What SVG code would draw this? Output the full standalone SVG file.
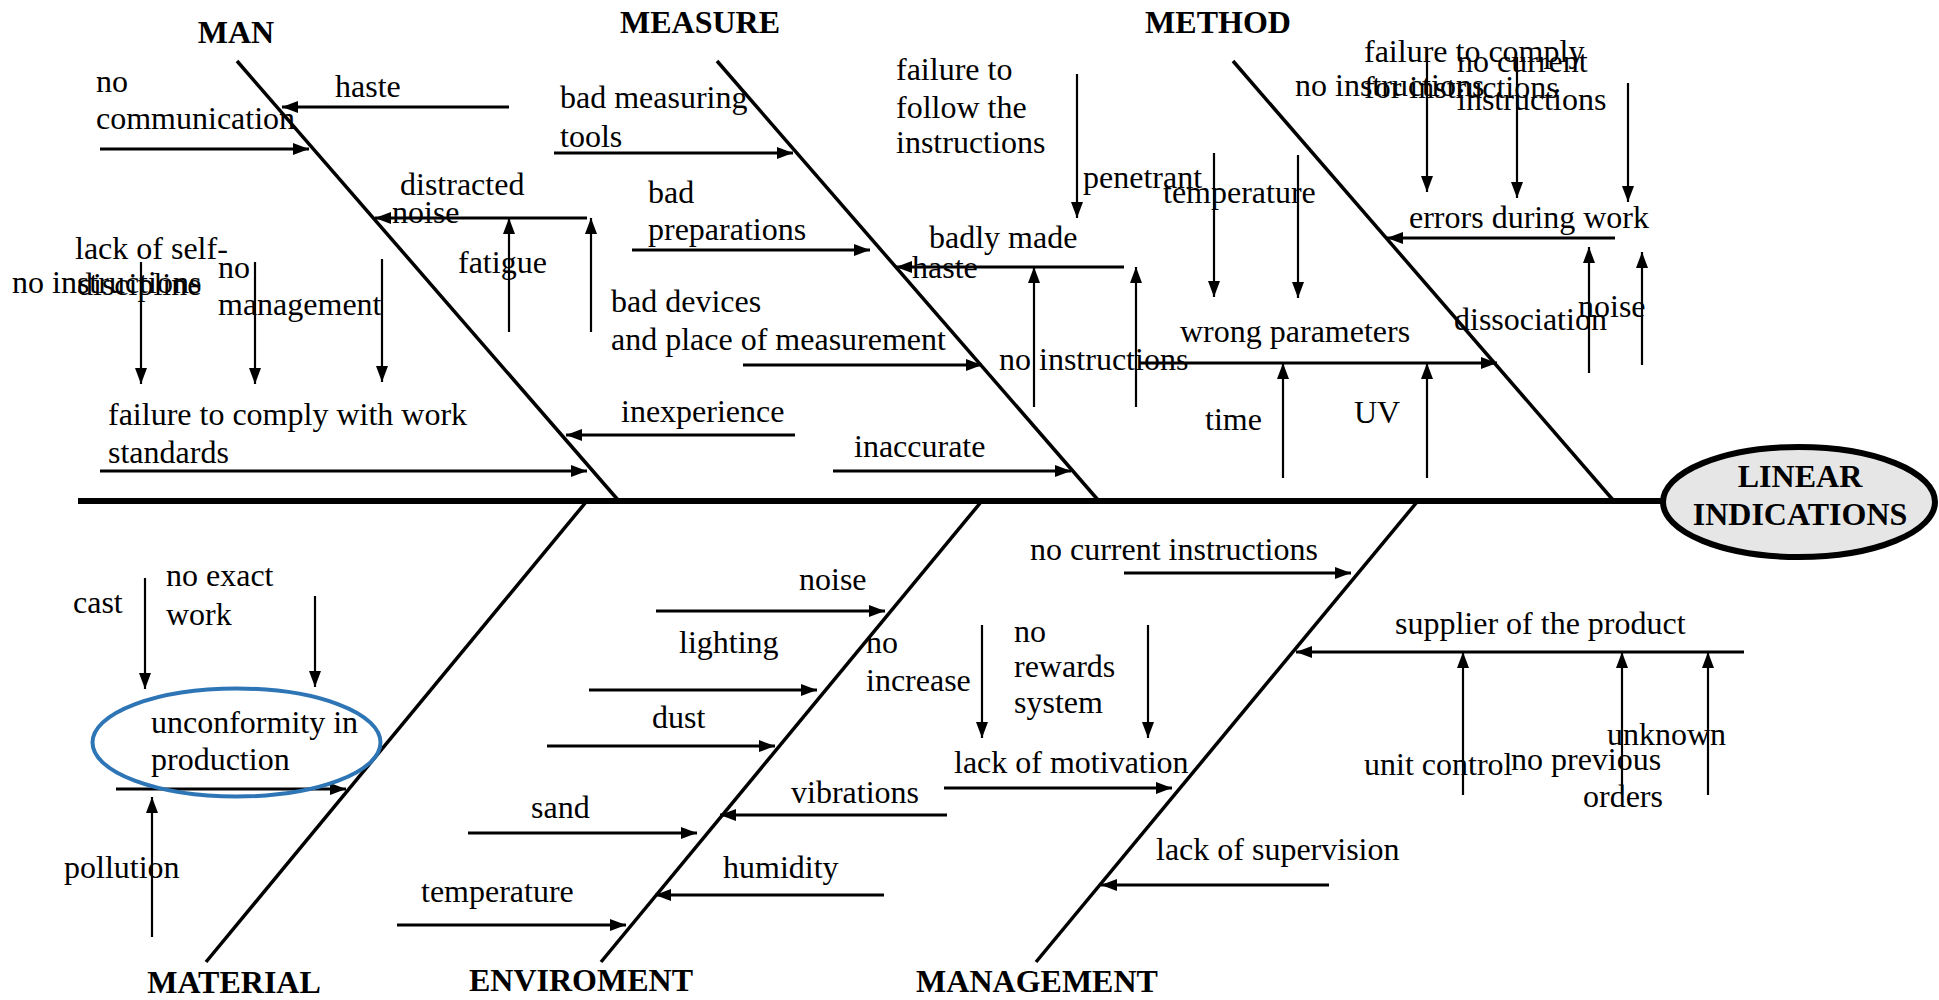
<svg xmlns="http://www.w3.org/2000/svg" width="1939" height="1000" viewBox="0 0 1939 1000">
<style>
text{font-family:"Liberation Serif","Times New Roman",serif;font-size:32px;fill:#000}
.h{font-weight:bold;text-anchor:middle}
.bone{stroke:#000;stroke-width:3.5;fill:none}
.spine{stroke:#000;stroke-width:6;fill:none}
.ar{stroke:#000;stroke-width:3;fill:none;marker-end:url(#ah)}
.av{stroke:#000;stroke-width:2.2;fill:none;marker-end:url(#ah)}
</style>
<defs>
<marker id="ah" markerUnits="userSpaceOnUse" markerWidth="16" markerHeight="12" refX="16" refY="6" orient="auto">
<path d="M0,0 L16,6 L0,12 z" fill="#000"/>
</marker>
</defs>
<rect width="1939" height="1000" fill="#fff"/>
<g id="connectors">
<line class="spine" x1="78" y1="501" x2="1662" y2="501"/>
<line class="bone" x1="237" y1="61" x2="618" y2="500"/>
<line class="bone" x1="717" y1="61" x2="1098" y2="500"/>
<line class="bone" x1="1233" y1="61" x2="1613" y2="500"/>
<line class="bone" x1="586" y1="502" x2="206" y2="962"/>
<line class="bone" x1="981" y1="502" x2="601" y2="962"/>
<line class="bone" x1="1417" y1="502" x2="1036" y2="962"/>
<!-- MAN -->
<line class="ar" x1="509" y1="107" x2="282" y2="107"/>
<line class="ar" x1="100" y1="149" x2="309" y2="149"/>
<line class="ar" x1="587" y1="218" x2="375" y2="218"/>
<line class="av" x1="509" y1="332" x2="509" y2="218"/>
<line class="av" x1="591" y1="332" x2="591" y2="218"/>
<line class="av" x1="141" y1="262" x2="141" y2="384"/>
<line class="av" x1="255" y1="262" x2="255" y2="384"/>
<line class="av" x1="382" y1="259" x2="382" y2="382"/>
<line class="ar" x1="100" y1="471" x2="587" y2="471"/>
<line class="ar" x1="795" y1="435" x2="566" y2="435"/>
<!-- MEASURE -->
<line class="ar" x1="554" y1="153" x2="793" y2="153"/>
<line class="ar" x1="632" y1="250" x2="870" y2="250"/>
<line class="ar" x1="743" y1="365" x2="982" y2="365"/>
<line class="ar" x1="833" y1="471" x2="1071" y2="471"/>
<line class="av" x1="1077" y1="74" x2="1077" y2="218"/>
<line class="ar" x1="1124" y1="267" x2="896" y2="267"/>
<line class="av" x1="1034" y1="407" x2="1034" y2="267"/>
<line class="av" x1="1136" y1="407" x2="1136" y2="267"/>
<!-- METHOD -->
<line class="ar" x1="1140" y1="363" x2="1497" y2="363"/>
<line class="av" x1="1214" y1="153" x2="1214" y2="297"/>
<line class="av" x1="1298" y1="155" x2="1298" y2="298"/>
<line class="av" x1="1283" y1="478" x2="1283" y2="363"/>
<line class="av" x1="1427" y1="478" x2="1427" y2="363"/>
<line class="ar" x1="1615" y1="238" x2="1387" y2="238"/>
<line class="av" x1="1427" y1="50" x2="1427" y2="192"/>
<line class="av" x1="1517" y1="57" x2="1517" y2="198"/>
<line class="av" x1="1628" y1="83" x2="1628" y2="202"/>
<line class="av" x1="1589" y1="373" x2="1589" y2="247"/>
<line class="av" x1="1642" y1="365" x2="1642" y2="252"/>
<!-- MATERIAL -->
<line class="ar" x1="116" y1="789" x2="346" y2="789"/>
<line class="av" x1="145" y1="578" x2="145" y2="689"/>
<line class="av" x1="315" y1="596" x2="315" y2="687"/>
<line class="av" x1="152" y1="937" x2="152" y2="797"/>
<!-- ENVIROMENT -->
<line class="ar" x1="656" y1="611" x2="885" y2="611"/>
<line class="ar" x1="589" y1="690" x2="817" y2="690"/>
<line class="ar" x1="547" y1="746" x2="775" y2="746"/>
<line class="ar" x1="468" y1="833" x2="697" y2="833"/>
<line class="ar" x1="397" y1="925" x2="626" y2="925"/>
<line class="ar" x1="947" y1="815" x2="720" y2="815"/>
<line class="ar" x1="884" y1="895" x2="655" y2="895"/>
<!-- MANAGEMENT -->
<line class="ar" x1="1124" y1="573" x2="1351" y2="573"/>
<line class="av" x1="982" y1="625" x2="982" y2="738"/>
<line class="av" x1="1148" y1="625" x2="1148" y2="738"/>
<line class="ar" x1="944" y1="788" x2="1172" y2="788"/>
<line class="ar" x1="1329" y1="885" x2="1101" y2="885"/>
<line class="ar" x1="1744" y1="652" x2="1296" y2="652"/>
<line class="av" x1="1463" y1="795" x2="1463" y2="652"/>
<line class="av" x1="1622" y1="795" x2="1622" y2="652"/>
<line class="av" x1="1708" y1="795" x2="1708" y2="652"/>
</g>
<g id="head">
<ellipse cx="1799" cy="502" rx="136" ry="55" fill="#e6e6e6" stroke="#000" stroke-width="6"/>
<text class="h" x="1800" y="487">LINEAR</text>
<text class="h" x="1800" y="525">INDICATIONS</text>
</g>
<g id="cat-man"><text class="h" x="236" y="43">MAN</text></g>
<g id="cat-measure"><text class="h" x="700" y="33">MEASURE</text></g>
<g id="cat-method"><text class="h" x="1218" y="33">METHOD</text></g>
<g id="cat-material"><text class="h" x="234" y="993">MATERIAL</text></g>
<g id="cat-enviroment"><text class="h" x="581" y="991">ENVIROMENT</text></g>
<g id="cat-management"><text class="h" x="1037" y="992">MANAGEMENT</text></g>
<g id="n-no-communication"><text x="96" y="92">no</text><text x="96" y="129">communication</text></g>
<g id="n-haste1"><text x="335" y="97">haste</text></g>
<g id="n-distracted"><text x="400" y="195">distracted</text></g>
<g id="n-noise1"><text x="392" y="223">noise</text></g>
<g id="n-fatigue"><text x="458" y="273">fatigue</text></g>
<g id="n-lack-self"><text x="75" y="259">lack of self-</text><text x="77" y="295">discipline</text></g>
<g id="n-no-instructions1"><text x="12" y="293">no instructions</text></g>
<g id="n-no-management"><text x="218" y="278">no</text><text x="218" y="315">management</text></g>
<g id="n-failure-standards"><text x="108" y="425">failure to comply with work</text><text x="108" y="463">standards</text></g>
<g id="n-bad-tools"><text x="560" y="108">bad measuring</text><text x="560" y="147">tools</text></g>
<g id="n-bad-prep"><text x="648" y="203">bad</text><text x="648" y="240">preparations</text></g>
<g id="n-bad-devices"><text x="611" y="312">bad devices</text><text x="611" y="350">and place of measurement</text></g>
<g id="n-inexperience"><text x="621" y="422">inexperience</text></g>
<g id="n-inaccurate"><text x="854" y="457">inaccurate</text></g>
<g id="n-failure-follow"><text x="896" y="80">failure to</text><text x="896" y="118">follow the</text><text x="896" y="153">instructions</text></g>
<g id="n-penetrant"><text x="1083" y="188">penetrant</text></g>
<g id="n-temperature1"><text x="1163" y="203">temperature</text></g>
<g id="n-badly-made"><text x="929" y="248">badly made</text></g>
<g id="n-haste2"><text x="912" y="278">haste</text></g>
<g id="n-no-instructions2"><text x="999" y="370">no instructions</text></g>
<g id="n-wrong-params"><text x="1180" y="342">wrong parameters</text></g>
<g id="n-time"><text x="1205" y="430">time</text></g>
<g id="n-uv"><text x="1354" y="423">UV</text></g>
<g id="n-dissociation"><text x="1454" y="330">dissociation</text></g>
<g id="n-noise2"><text x="1578" y="317">noise</text></g>
<g id="n-errors"><text x="1409" y="228">errors during work</text></g>
<g id="n-failure-comply"><text x="1364" y="62">failure to comply</text><text x="1364" y="98">for instructions</text></g>
<g id="n-no-instructions3"><text x="1295" y="96">no instructions</text></g>
<g id="n-no-current1"><text x="1457" y="72">no current</text><text x="1457" y="110">instructions</text></g>
<g id="n-cast"><text x="73" y="613">cast</text></g>
<g id="n-no-exact"><text x="166" y="586">no exact</text><text x="166" y="625">work</text></g>
<g id="n-unconformity">
<ellipse cx="236.5" cy="742.5" rx="144" ry="54" fill="none" stroke="#2E75B6" stroke-width="4"/>
<text x="151" y="733">unconformity in</text><text x="151" y="770">production</text></g>
<g id="n-pollution"><text x="64" y="878">pollution</text></g>
<g id="n-noise3"><text x="799" y="590">noise</text></g>
<g id="n-lighting"><text x="679" y="653">lighting</text></g>
<g id="n-dust"><text x="652" y="728">dust</text></g>
<g id="n-sand"><text x="531" y="818">sand</text></g>
<g id="n-temperature2"><text x="421" y="902">temperature</text></g>
<g id="n-vibrations"><text x="791" y="803">vibrations</text></g>
<g id="n-humidity"><text x="723" y="878">humidity</text></g>
<g id="n-no-increase"><text x="866" y="653">no</text><text x="866" y="691">increase</text></g>
<g id="n-no-rewards"><text x="1014" y="642">no</text><text x="1014" y="677">rewards</text><text x="1014" y="713">system</text></g>
<g id="n-motivation"><text x="954" y="773">lack of motivation</text></g>
<g id="n-no-current2"><text x="1030" y="560">no current instructions</text></g>
<g id="n-supervision"><text x="1156" y="860">lack of supervision</text></g>
<g id="n-supplier"><text x="1395" y="634">supplier of the product</text></g>
<g id="n-unit-control"><text x="1364" y="775">unit control</text></g>
<g id="n-no-previous"><text x="1511" y="770">no previous</text><text x="1583" y="807">orders</text></g>
<g id="n-unknown"><text x="1607" y="745">unknown</text></g>
</svg>
